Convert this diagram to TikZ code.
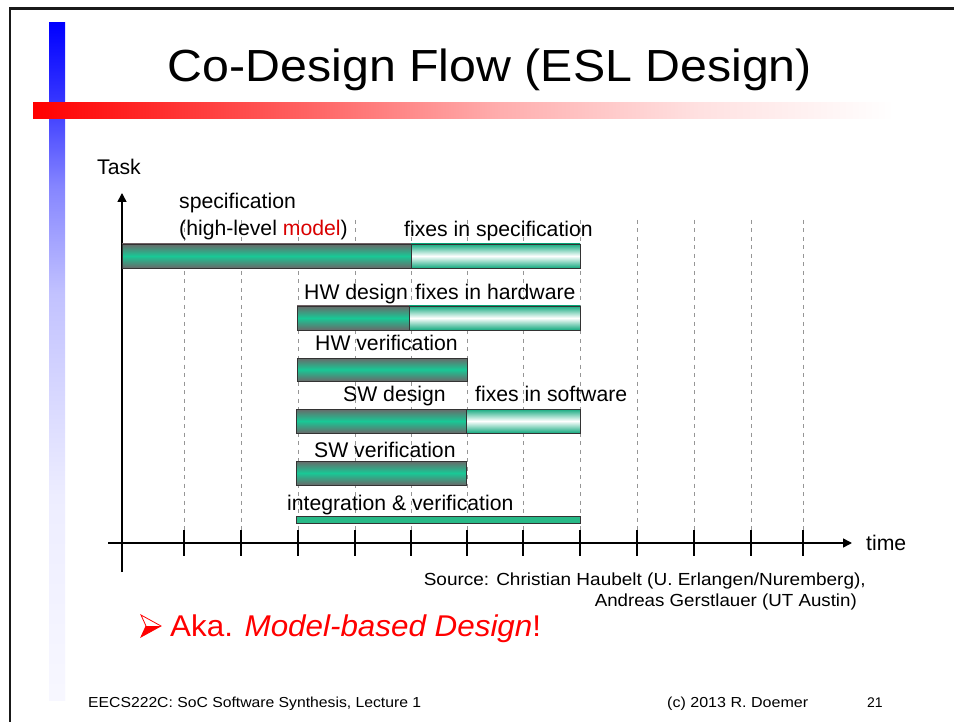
\documentclass[tikz,border=0pt]{standalone}
\usepackage{fontspec}
\setmainfont{Liberation Sans}
\usetikzlibrary{arrows.meta}

\definecolor{barGreen}{RGB}{25,200,150}
\definecolor{barGray}{RGB}{105,105,105}
\definecolor{intGreen}{RGB}{40,185,135}
\definecolor{slideRed}{RGB}{255,0,0}
\definecolor{slideBlue}{RGB}{0,0,255}
\definecolor{gridGray}{RGB}{150,150,150}

% side bar: strong blue on top, fading out towards the bottom
% (the path box is mapped onto 25bp..75bp of the shading)
\pgfdeclareverticalshading{sidebar}{100bp}{%
  color(0bp)=(slideBlue!3);
  color(25bp)=(slideBlue!3);
  color(40bp)=(slideBlue!7);
  color(55bp)=(slideBlue!24);
  color(63bp)=(slideBlue!48);
  color(69bp)=(slideBlue!78);
  color(75bp)=(slideBlue);
  color(100bp)=(slideBlue)}
% title underline: red on the left, fading to white
\pgfdeclarehorizontalshading{titlebar}{100bp}{%
  color(0bp)=(slideRed);
  color(25bp)=(slideRed);
  color(40bp)=(slideRed!62);
  color(51bp)=(slideRed!32);
  color(62bp)=(slideRed!12);
  color(73bp)=(white);
  color(100bp)=(white)}

\tikzset{
  lbl/.style={inner sep=0pt, anchor=base west, font=\fontsize{21.2}{25}\selectfont},
  workbar/.style={draw=black!80, line width=0.8pt,
    top color=barGray, bottom color=barGray, middle color=barGreen},
  fixbar/.style={draw=black!80, line width=0.8pt,
    top color=barGreen!85!black, bottom color=barGreen!85!black, middle color=white},
  gridline/.style={draw=gridGray, line width=0.8pt, dash pattern=on 4pt off 4.5pt},
  tickmark/.style={draw=black, line width=1.4pt},
  axisline/.style={draw=black, line width=1.6pt},
  plain/.style={inner sep=0pt},
}

\begin{document}
\begin{tikzpicture}[x=1pt,y=-1pt]
\useasboundingbox (0,0) rectangle (954,722);
\fill[white] (0,0) rectangle (954,722);

% slide frame
\draw[black!90, line width=2.4pt] (10,722) -- (10,8.5) -- (954,8.5);

% decoration bars
\shade[shading=sidebar] (49,23) rectangle (65,700);
\shade[shading=titlebar] (33,103) rectangle (930,119);

% title
\node[plain, anchor=base] (title) at (490,82)
  {\resizebox{644pt}{\height}{\fontsize{45}{52}\selectfont Co-Design Flow (ESL Design)}};

% time grid
\foreach \gx [count=\i] in {184,241,298,355,411,467,523,580,637,694,751,803} {
  \coordinate (gt\i) at (\gx,220);
  \coordinate (gb\i) at (\gx,530);
  \coordinate (tt\i) at (\gx,530);
  \coordinate (tb\i) at (\gx,556);
  \draw[gridline] (gt\i) -- (gb\i);
  \draw[tickmark] (tt\i) -- (tb\i);
}

% axes
\coordinate (yfoot) at (122,572);
\coordinate (ytip) at (122,193);
\coordinate (xfoot) at (108,543);
\coordinate (xtip) at (852,543);
\draw[axisline, -{Triangle[width=9pt,length=9pt]}] (yfoot) -- (ytip);
\draw[axisline, -{Triangle[width=9pt,length=9pt]}] (xfoot) -- (xtip);
\node[lbl] (task) at (97,175) {Task};
\node[lbl] (time) at (866,550) {time};

% specification
\path[workbar] (122,244) rectangle (411,268);
\path[fixbar] (411,244) rectangle (580,268);
\node[lbl] (spec1) at (179,209) {specification};
\node[lbl] (spec2) at (179,236) {(high-level \textcolor{slideRed!85!black}{model})};
\node[lbl] (specfix) at (404,237) {fixes in specification};

% hardware design
\path[workbar] (297,306) rectangle (409,330);
\path[fixbar] (409,306) rectangle (580,330);
\node[lbl] (hwd) at (304,300) {HW design};
\node[lbl] (hwfix) at (415,300) {fixes in hardware};

% hardware verification
\path[workbar] (297,358) rectangle (467,381);
\node[lbl] (hwv) at (315,350) {HW verification};

% software design
\path[workbar] (296,409) rectangle (466,433);
\path[fixbar] (466,409) rectangle (580,433);
\node[lbl] (swd) at (343,401) {SW design};
\node[lbl] (swfix) at (475,401) {fixes in software};

% software verification
\path[workbar] (296,461) rectangle (466,485);
\node[lbl] (swv) at (314,457) {SW verification};

% integration
\path[draw=black!80, line width=0.8pt, fill=intGreen] (296,516.5) rectangle (580,523);
\node[lbl] (integ) at (287,510) {integration \& verification};

% source
\node[plain, anchor=base east] (src1) at (866,585)
  {\resizebox{442pt}{\height}{\fontsize{17.5}{20}\selectfont Source: Christian Haubelt (U. Erlangen/Nuremberg),}};
\node[plain, anchor=base east] (src2) at (857,606)
  {\resizebox{262pt}{\height}{\fontsize{17.5}{20}\selectfont Andreas Gerstlauer (UT Austin)}};

% bullet arrowhead and remark
\fill[slideRed] (141,637) -- (161,626) -- (146,626) -- cycle;
\draw[slideRed, line width=0.8pt, line join=miter] (141,615) -- (161,626) -- (141,637) -- (146,626) -- cycle;
\node[plain, anchor=base west, text=slideRed] (aka) at (170,636)
  {\resizebox{371pt}{\height}{\fontsize{30}{34}\selectfont Aka. \textit{Model-based Design}!}};

% footer
\node[plain, anchor=base west] (foot1) at (88,707)
  {\resizebox{333pt}{\height}{\fontsize{14.5}{17}\selectfont EECS222C: SoC Software Synthesis, Lecture 1}};
\node[plain, anchor=base west] (foot2) at (667,707)
  {\resizebox{141pt}{\height}{\fontsize{14.5}{17}\selectfont (c) 2013 R. Doemer}};
\node[plain, anchor=base west, font=\fontsize{14}{17}\selectfont] (foot3) at (867,707)
  {21};
\end{tikzpicture}
\end{document}
